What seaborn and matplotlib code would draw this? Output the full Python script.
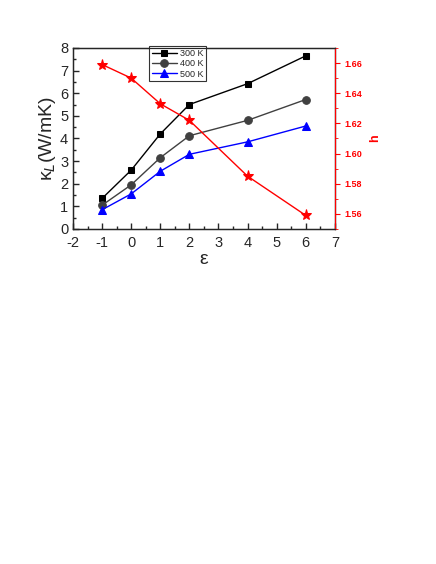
import pandas as pd
import numpy as np
import matplotlib
matplotlib.use("Agg")
import matplotlib.pyplot as plt
import seaborn as sns
from matplotlib.ticker import MultipleLocator

strain = [-1, 0, 1, 2, 4, 6]
k_300 = [1.35, 2.60, 4.20, 5.50, 6.42, 7.65]
k_400 = [1.05, 1.95, 3.15, 4.12, 4.80, 5.72]
k_500 = [0.85, 1.55, 2.55, 3.30, 3.85, 4.55]
h_vals = [1.659, 1.650, 1.633, 1.622, 1.585, 1.559]

sns.set_style("ticks")
plt.rcParams['font.family'] = ['Liberation Sans', 'DejaVu Sans']
plt.rcParams['axes.unicode_minus'] = False
plt.rcParams['xtick.direction'] = 'in'
plt.rcParams['ytick.direction'] = 'in'

df = pd.DataFrame({'strain': strain, '300 K': k_300, '400 K': k_400, '500 K': k_500, 'h': h_vals})

fig = plt.figure(figsize=(4.36, 5.64), dpi=100)
ax = fig.add_axes([0.1674, 0.594, 0.6006, 0.321])

styles = [('300 K', 'black', 's', 5), ('400 K', '#404040', 'o', 5.5), ('500 K', 'blue', '^', 6)]
for col, c, m, ms in styles:
    sns.lineplot(x='strain', y=col, data=df, ax=ax, color=c, marker=m, markersize=ms,
                 markeredgecolor=c, linewidth=1, label=col)

ax.set_xlim(-2, 7)
ax.set_ylim(0, 8)
ax.xaxis.set_major_locator(MultipleLocator(1))
ax.xaxis.set_minor_locator(MultipleLocator(0.5))
ax.yaxis.set_major_locator(MultipleLocator(1))
ax.yaxis.set_minor_locator(MultipleLocator(0.5))
ax.tick_params(which='major', length=4, width=1, labelsize=10.5, right=False, top=False)
ax.tick_params(axis='x', which='major', pad=5)
ax.tick_params(which='minor', length=2, width=1, right=False, top=False)
ax.set_xlabel('ε', fontsize=14, labelpad=1)
ax.set_ylabel('κ$_L$(W/mK)', fontsize=14, labelpad=1)
for s in ax.spines.values():
    s.set_linewidth(1)

leg = ax.legend(loc='upper left', bbox_to_anchor=(0.29, 1.01), fontsize=6.5, frameon=True,
                fancybox=False, edgecolor='black', borderpad=0.3, handlelength=2.8,
                labelspacing=0.15, handletextpad=0.3, borderaxespad=0)
leg.get_frame().set_linewidth(0.8)

ax2 = ax.twinx()
sns.lineplot(x='strain', y='h', data=df, ax=ax2, color='red', marker='*', markersize=8,
             markeredgecolor='red', linewidth=1, legend=False)
ax2.set_ylim(1.55, 1.67)
ax2.yaxis.set_major_locator(MultipleLocator(0.02))
ax2.yaxis.set_minor_locator(MultipleLocator(0.01))
ax2.yaxis.set_major_formatter(matplotlib.ticker.FormatStrFormatter('%.2f'))
ax2.tick_params(axis='y', which='both', direction='out', colors='red', labelsize=6.5)
ax2.tick_params(axis='y', which='major', length=3.5)
ax2.tick_params(axis='y', which='minor', length=2)
for lab in ax2.get_yticklabels():
    lab.set_fontweight('bold')
ax2.spines['right'].set_color('red')
ax2.set_ylabel('h', color='red', fontsize=9, fontweight='bold', labelpad=5)
ax2.set_xlabel('')

fig.savefig('out.png', dpi=100)
